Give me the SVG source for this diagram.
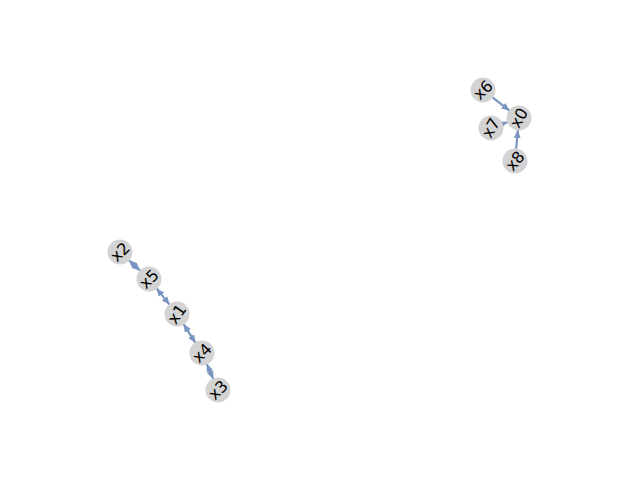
<svg xmlns="http://www.w3.org/2000/svg" width="640" height="480" viewBox="0 0 640 480">
<style>
.edge{stroke:#7a96c0;stroke-width:2.2;fill:none}
.node circle{fill:#d3d3d3;stroke:none}
.node text{font-family:"DejaVu Sans",sans-serif;font-size:16px;fill:#000;text-anchor:middle;dominant-baseline:central}
</style>
<defs>
<marker id="ah" markerUnits="userSpaceOnUse" markerWidth="10" markerHeight="10" refX="8" refY="5" orient="auto-start-reverse">
<path d="M0,1.5 L8,5 L0,8.5 Z" fill="#7a96c0"/>
</marker>
</defs>
<rect width="640" height="480" fill="#fff"/>
<g id="edges">
<line class="edge" x1="492.5" y1="97.4" x2="509.5" y2="110.6" marker-end="url(#ah)"/>
<line class="edge" x1="502.3" y1="124" x2="507.7" y2="122" marker-end="url(#ah)"/>
<line class="edge" x1="516.1" y1="149.1" x2="517.9" y2="130" marker-end="url(#ah)"/>
<line class="edge" x1="128.8" y1="260.2" x2="140.2" y2="270.8" marker-start="url(#ah)" marker-end="url(#ah)"/>
<line class="edge" x1="156.5" y1="288.4" x2="169.5" y2="304.6" marker-start="url(#ah)" marker-end="url(#ah)"/>
<line class="edge" x1="183.5" y1="324.1" x2="195.5" y2="342.9" marker-start="url(#ah)" marker-end="url(#ah)"/>
<line class="edge" x1="206.8" y1="364" x2="213.2" y2="379" marker-start="url(#ah)" marker-end="url(#ah)"/>
</g>
<g id="x6" class="node"><circle cx="483" cy="90" r="12.5"/><text transform="translate(483,90) rotate(-45)">x6</text></g>
<g id="x0" class="node"><circle cx="519" cy="118" r="12.5"/><text transform="translate(519,118) rotate(-60)">x0</text></g>
<g id="x7" class="node"><circle cx="491" cy="128" r="12.5"/><text transform="translate(491,128) rotate(-60)">x7</text></g>
<g id="x8" class="node"><circle cx="515" cy="161" r="12.5"/><text transform="translate(515,161) rotate(-50)">x8</text></g>
<g id="x2" class="node"><circle cx="120" cy="252" r="12.5"/><text transform="translate(120,252) rotate(-45)">x2</text></g>
<g id="x5" class="node"><circle cx="149" cy="279" r="12.5"/><text transform="translate(149,279) rotate(-45)">x5</text></g>
<g id="x1" class="node"><circle cx="177" cy="314" r="12.5"/><text transform="translate(177,314) rotate(-55)">x1</text></g>
<g id="x4" class="node"><circle cx="202" cy="353" r="12.5"/><text transform="translate(202,353) rotate(-45)">x4</text></g>
<g id="x3" class="node"><circle cx="218" cy="390" r="12.5"/><text transform="translate(218,390) rotate(-45)">x3</text></g>
</svg>
